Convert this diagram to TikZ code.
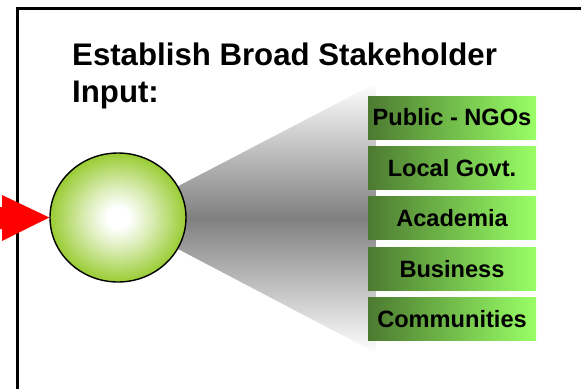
\documentclass[tikz,border=0pt]{standalone}
\usepackage{fontspec}
\setmainfont{Liberation Sans}
\usetikzlibrary{positioning,shapes.geometric}
\definecolor{hubgreen}{RGB}{153,204,51}
\definecolor{darkleaf}{RGB}{76,122,48}
\definecolor{lightleaf}{RGB}{153,255,102}
\pgfdeclareradialshading{hubglow}{\pgfpoint{0bp}{0bp}}{color(0bp)=(white); color(4bp)=(white); color(12bp)=(white!65!hubgreen); color(25bp)=(hubgreen); color(50bp)=(hubgreen)}
\tikzset{
  group/.style={rectangle, minimum width=168pt, minimum height=43pt, inner sep=0pt,
    left color=darkleaf, right color=lightleaf, font=\fontsize{23.6}{27}\selectfont\bfseries},
  hub/.style={ellipse, draw, line width=1.4pt, minimum width=136pt, minimum height=129pt,
    inner sep=0pt, shading=hubglow},
}
\begin{document}
\begin{tikzpicture}[x=1pt,y=-1pt]
\useasboundingbox (0,0) rectangle (581,389);
% frame
\draw[line width=2.2pt] (17.5,389) -- (17.5,8.5) -- (581,8.5);
% cone behind the hub
\coordinate (hubc) at (118,217.5);
\coordinate (conetop) at (376,83);
\coordinate (conebot) at (376,353);
\shade[top color=white, bottom color=white, middle color=gray] (hubc) -- (conetop) -- (conebot) -- cycle;
\node[hub] (hub) at (hubc) {};
% stakeholder groups
\node[group] (public) at (452,117.5) {Public - NGOs};
\node[group, below=7pt of public] (local) {Local Govt.};
\node[group, below=7pt of local] (academia) {Academia};
\node[group, below=7pt of academia] (business) {Business};
\node[group, below=7pt of business] (communities) {Communities};
% input arrow
\fill[red] (0,207) -- (2,207) -- (2,195) -- (hub.west) -- (2,241) -- (2,229) -- (0,229) -- cycle;
\node[anchor=north west, align=left, inner sep=0pt, font=\fontsize{31.2}{37}\selectfont\bfseries] (title) at (72,42.5) {Establish Broad Stakeholder\\Input:};
\end{tikzpicture}
\end{document}
